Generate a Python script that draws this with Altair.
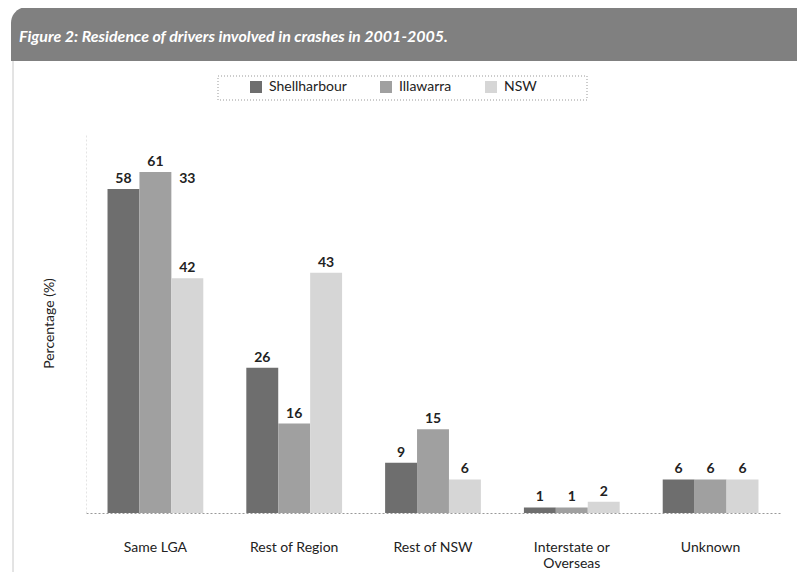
import altair as alt
import pandas as pd

categories = ["Same LGA", "Rest of Region", "Rest of NSW", "Interstate or Overseas", "Unknown"]
series = ["Shellharbour", "Illawarra", "NSW"]
shellharbour = [58, 26, 9, 1, 6]
illawarra = [61, 16, 15, 1, 6]
nsw = [42, 43, 6, 2, 6]
colors = ["#6e6e6e", "#a0a0a0", "#d6d6d6"]

# stray label printed in the original figure above the Same LGA group
stray_category = ["Same LGA"]
stray_series = ["NSW"]
stray_value = [58]
stray_text = ["33"]

title_text = "Figure 2: Residence of drivers involved in crashes in 2001-2005."

rows = []
for s, vals in zip(series, [shellharbour, illawarra, nsw]):
    for c, v in zip(categories, vals):
        rows.append({"category": c, "series": s, "value": v, "label": str(v)})
df = pd.DataFrame(rows)
stray = pd.DataFrame({"category": stray_category, "series": stray_series,
                      "value": stray_value, "label": stray_text})

FONT = "Lato"

x_enc = alt.X("category:N", sort=categories,
              scale=alt.Scale(paddingInner=0.31, paddingOuter=0.155),
              axis=alt.Axis(title=None, labelAngle=0, ticks=False, tickSize=0,
                            labelPadding=27, labelFontSize=14, labelFont=FONT,
                            labelColor="#222", labelLineHeight=16,
                            domainDash=[2, 2], domainColor="#999",
                            labelExpr="datum.label == 'Interstate or Overseas' ? ['Interstate or', 'Overseas'] : datum.label"))
xo_enc = alt.XOffset("series:N", sort=series, scale=alt.Scale(domain=series, paddingInner=0, paddingOuter=0))
y_enc = alt.Y("value:Q", scale=alt.Scale(domain=[0, 68], nice=False),
              axis=alt.Axis(title="Percentage (%)", labels=False, ticks=False, tickSize=0,
                            grid=False, domainColor="#e4e4e4", domainDash=[2, 2],
                            titleFontSize=14, titleFont=FONT, titleFontWeight="normal",
                            titleColor="#222", titlePadding=30))

bars = alt.Chart(df).mark_bar().encode(
    x=x_enc, xOffset=xo_enc, y=y_enc,
    color=alt.Color("series:N", sort=series,
                    scale=alt.Scale(domain=series, range=colors),
                    legend=alt.Legend(title=None, orient="none", legendX=163, legendY=-53,
                                      direction="horizontal", columns=3,
                                      symbolType="square", symbolSize=144,
                                      symbolStrokeWidth=0, labelFontSize=14,
                                      labelFont=FONT, labelColor="#222",
                                      columnPadding=32, labelOffset=6))
)

labels = alt.Chart(df).mark_text(dy=-10, fontSize=14, font=FONT, fontWeight="bold",
                                 color="#222").encode(
    x=alt.X("category:N", sort=categories), xOffset=alt.XOffset("series:N", sort=series),
    y="value:Q", text="label:N")

stray_labels = alt.Chart(stray).mark_text(dy=-10, fontSize=14, font=FONT, fontWeight="bold",
                                          color="#222").encode(
    x=alt.X("category:N", sort=categories), xOffset=alt.XOffset("series:N", sort=series),
    y="value:Q", text="label:N")

deco = pd.DataFrame({"t": [title_text]})

frame = alt.Chart(deco).mark_rule(stroke="#c8c8c8", strokeWidth=1).encode(
    x=alt.value(-73), y=alt.value(-72), y2=alt.value(445))

banner = alt.Chart(deco).mark_rect(fill="#808080", cornerRadiusTopLeft=16,
                                   cornerRadiusTopRight=10).encode(
    x=alt.value(-75), x2=alt.value(720), y=alt.value(-126), y2=alt.value(-72))

title = alt.Chart(deco).mark_text(align="left", baseline="middle", font=FONT, fontSize=16,
                                  fontStyle="italic", fontWeight="bold", color="white").encode(
    x=alt.value(-67), y=alt.value(-96), text="t:N")

legend_box = alt.Chart(deco).mark_rect(fill="transparent", stroke="#999", strokeWidth=1,
                                       strokeDash=[1, 2]).encode(
    x=alt.value(132), x2=alt.value(501), y=alt.value(-57), y2=alt.value(-33))

chart = alt.layer(frame, banner, title, legend_box, bars, labels, stray_labels).properties(
    width=694, height=380,
    padding={"left": 78, "top": 125, "right": 17, "bottom": 59},
    autosize=alt.AutoSizeParams(type="none"),
    background="white",
).configure_view(stroke=None)

chart.save("out.html", embed_options={"renderer": "svg", "actions": False})
